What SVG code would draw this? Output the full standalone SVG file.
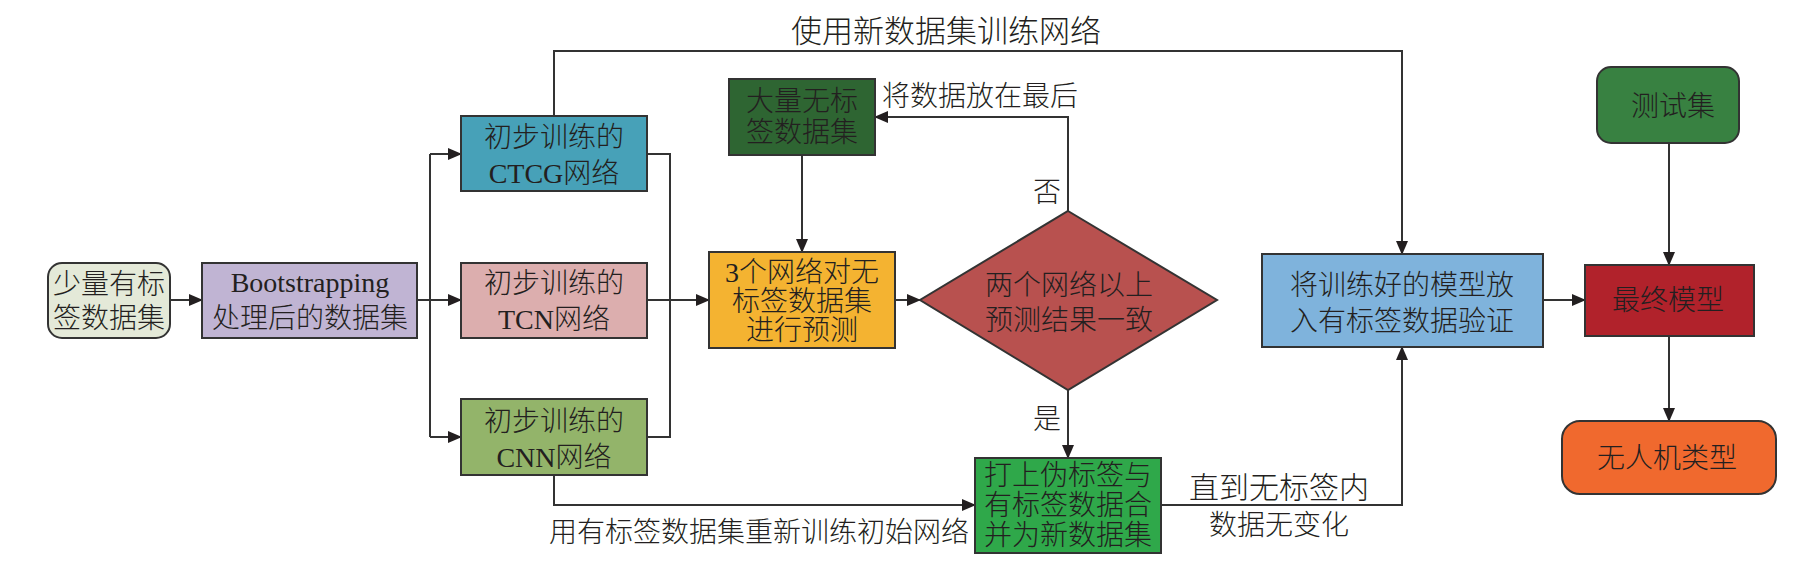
<svg xmlns="http://www.w3.org/2000/svg" width="1808" height="566" viewBox="0 0 1808 566">
<defs>
<marker id="arr" markerUnits="userSpaceOnUse" markerWidth="14" markerHeight="12" refX="13" refY="6" orient="auto">
<path d="M0,0 L14,6 L0,12 Z" fill="#231f20"/>
</marker>
<style>
.n{stroke:#333;stroke-width:2}
.c{fill:none;stroke:#333;stroke-width:2}
text{font-family:"Liberation Serif","Noto Sans CJK SC",serif;font-size:28px;font-weight:300;fill:#231f20;text-anchor:middle;dominant-baseline:central}
.l{font-weight:400}
</style>
</defs>
<rect width="1808" height="566" fill="#fff"/>
<g id="connectors">
<path class="c" d="M170,300 H202" marker-end="url(#arr)"/>
<path class="c" d="M417,300 H430"/>
<path class="c" d="M430,154 V437"/>
<path class="c" d="M430,154 H461" marker-end="url(#arr)"/>
<path class="c" d="M430,300 H461" marker-end="url(#arr)"/>
<path class="c" d="M430,437 H461" marker-end="url(#arr)"/>
<path class="c" d="M647,154 H670 V437 H647"/>
<path class="c" d="M647,300 H709" marker-end="url(#arr)"/>
<path class="c" d="M802,155 V252" marker-end="url(#arr)"/>
<path class="c" d="M895,300 H920" marker-end="url(#arr)"/>
<path class="c" d="M1068,211 V117 H875" marker-end="url(#arr)"/>
<path class="c" d="M1068,390 V458" marker-end="url(#arr)"/>
<path class="c" d="M554,116 V51 H1402 V254" marker-end="url(#arr)"/>
<path class="c" d="M554,475 V505 H975" marker-end="url(#arr)"/>
<path class="c" d="M1161,505 H1402 V347" marker-end="url(#arr)"/>
<path class="c" d="M1543,300 H1585" marker-end="url(#arr)"/>
<path class="c" d="M1669,143 V265" marker-end="url(#arr)"/>
<path class="c" d="M1669,336 V421" marker-end="url(#arr)"/>
</g>
<g id="labels">
<text x="946" y="31" style="font-size:31px">使用新数据集训练网络</text>
<text x="980" y="96">将数据放在最后</text>
<text x="1047" y="192">否</text>
<text x="1047" y="419">是</text>
<text x="759" y="532">用有标签数据集重新训练初始网络</text>
<text x="1279" y="487" style="font-size:30px">直到无标签内</text>
<text x="1279" y="525">数据无变化</text>
</g>
<g id="n1"><rect class="n" x="48" y="263" width="122" height="75" rx="14" fill="#e4e9d8"/><text x="109" y="284">少量有标</text><text x="109" y="318">签数据集</text></g>
<g id="n2"><rect class="n" x="202" y="263" width="215" height="75" fill="#c0b4d3"/><text x="310" y="282" class="l">Bootstrapping</text><text x="310" y="318">处理后的数据集</text></g>
<g id="n3"><rect class="n" x="461" y="116" width="186" height="75" fill="#47a1b8"/><text x="554" y="137">初步训练的</text><text x="554" y="173"><tspan class="l">CTCG</tspan>网络</text></g>
<g id="n4"><rect class="n" x="461" y="263" width="186" height="75" fill="#dcaeae"/><text x="554" y="283">初步训练的</text><text x="554" y="319"><tspan class="l">TCN</tspan>网络</text></g>
<g id="n5"><rect class="n" x="461" y="399" width="186" height="76" fill="#93b46a"/><text x="554" y="421">初步训练的</text><text x="554" y="457"><tspan class="l">CNN</tspan>网络</text></g>
<g id="n6"><rect class="n" x="729" y="79" width="146" height="76" fill="#2e6532"/><text x="802" y="101">大量无标</text><text x="802" y="132">签数据集</text></g>
<g id="n7"><rect class="n" x="709" y="252" width="186" height="96" fill="#f4b331"/><text x="802" y="272"><tspan class="l">3</tspan>个网络对无</text><text x="802" y="301">标签数据集</text><text x="802" y="330">进行预测</text></g>
<g id="n8"><polygon class="n" points="1068,211 1217,300 1068,390 920,300" fill="#b8514f"/><text x="1069" y="285">两个网络以上</text><text x="1069" y="320">预测结果一致</text></g>
<g id="n9"><rect class="n" x="975" y="458" width="186" height="95" fill="#2fa84a"/><text x="1068" y="475">打上伪标签与</text><text x="1068" y="505">有标签数据合</text><text x="1068" y="535">并为新数据集</text></g>
<g id="n10"><rect class="n" x="1262" y="254" width="281" height="93" fill="#7fb3dc"/><text x="1402" y="285">将训练好的模型放</text><text x="1402" y="321">入有标签数据验证</text></g>
<g id="n11"><rect class="n" x="1585" y="265" width="169" height="71" fill="#b1222b"/><text x="1668" y="300">最终模型</text></g>
<g id="n12"><rect class="n" x="1597" y="67" width="142" height="76" rx="14" fill="#388141"/><text x="1673" y="106">测试集</text></g>
<g id="n13"><rect class="n" x="1562" y="421" width="214" height="73" rx="18" fill="#f0692e"/><text x="1667" y="458">无人机类型</text></g>
</svg>
